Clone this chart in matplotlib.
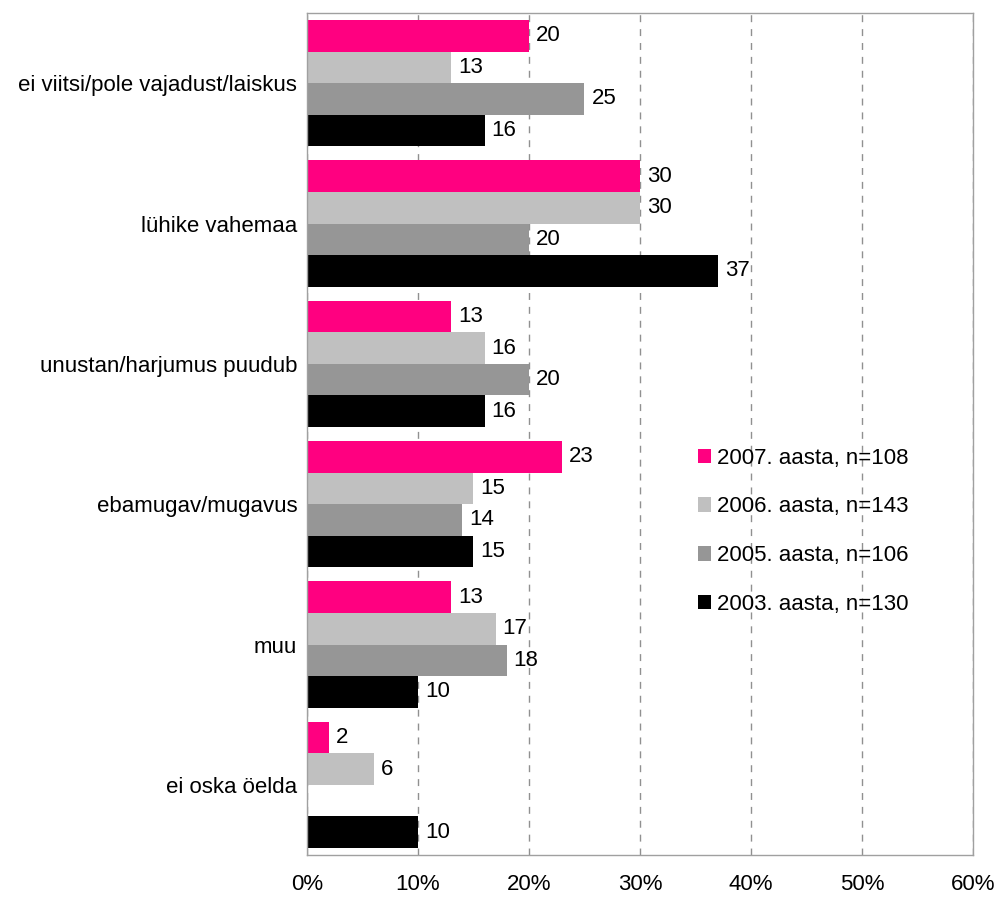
import numpy as np
import matplotlib
matplotlib.use('Agg')
import matplotlib.pyplot as plt

plt.rcParams['font.family'] = ['Liberation Sans', 'DejaVu Sans']

# andmed
categories = ['ei viitsi/pole vajadust/laiskus', 'lühike vahemaa', 'unustan/harjumus puudub',
              'ebamugav/mugavus', 'muu', 'ei oska öelda']
series_names = ['2007. aasta, n=108', '2006. aasta, n=143', '2005. aasta, n=106', '2003. aasta, n=130']
v2007 = [20, 30, 13, 23, 13, 2]
v2006 = [13, 30, 16, 15, 17, 6]
v2005 = [25, 20, 20, 14, 18, np.nan]
v2003 = [16, 37, 16, 15, 10, 10]
colors = ['#FF0080', '#C0C0C0', '#969696', '#000000']

fig = plt.figure(figsize=(10.01, 8.99), dpi=100)
ax = fig.add_axes([0.3067, 0.0489, 0.9720 - 0.3067, 0.9855 - 0.0489])

y = np.arange(len(categories))
h = 0.225
offsets = [-1.5, -0.5, 0.5, 1.5]
for vals, name, col, off in zip([v2007, v2006, v2005, v2003], series_names, colors, offsets):
    bars = ax.barh(y + off * h, vals, height=h, color=col, label=name)
    labels = ['' if np.isnan(v) else '%d' % v for v in vals]
    ax.bar_label(bars, labels=labels, padding=5, fontsize=16)

ax.set_ylim(len(categories) - 0.5, -0.5)
ax.set_xlim(0, 60)
ax.set_xticks(range(0, 61, 10))
ax.set_xticklabels(['%d%%' % t for t in range(0, 61, 10)])
ax.set_yticks(y)
ax.set_yticklabels(categories)
ax.tick_params(axis='both', length=0, labelsize=16)
ax.tick_params(axis='x', pad=14)
ax.tick_params(axis='y', pad=7)

ax.xaxis.grid(True, linestyle=(0, (5, 5)), color='#909090', linewidth=1)
ax.set_axisbelow(True)
for s in ax.spines.values():
    s.set_color('#A0A0A0')
    s.set_linewidth(1)

ax.legend(loc='center left', bbox_to_anchor=(0.697, 0.409), bbox_transform=fig.transFigure,
          frameon=False, fontsize=16, borderpad=0, borderaxespad=0,
          handlelength=0.62, handleheight=0.62, handletextpad=0.25, labelspacing=1.25)

fig.savefig('out.png', dpi=100)
